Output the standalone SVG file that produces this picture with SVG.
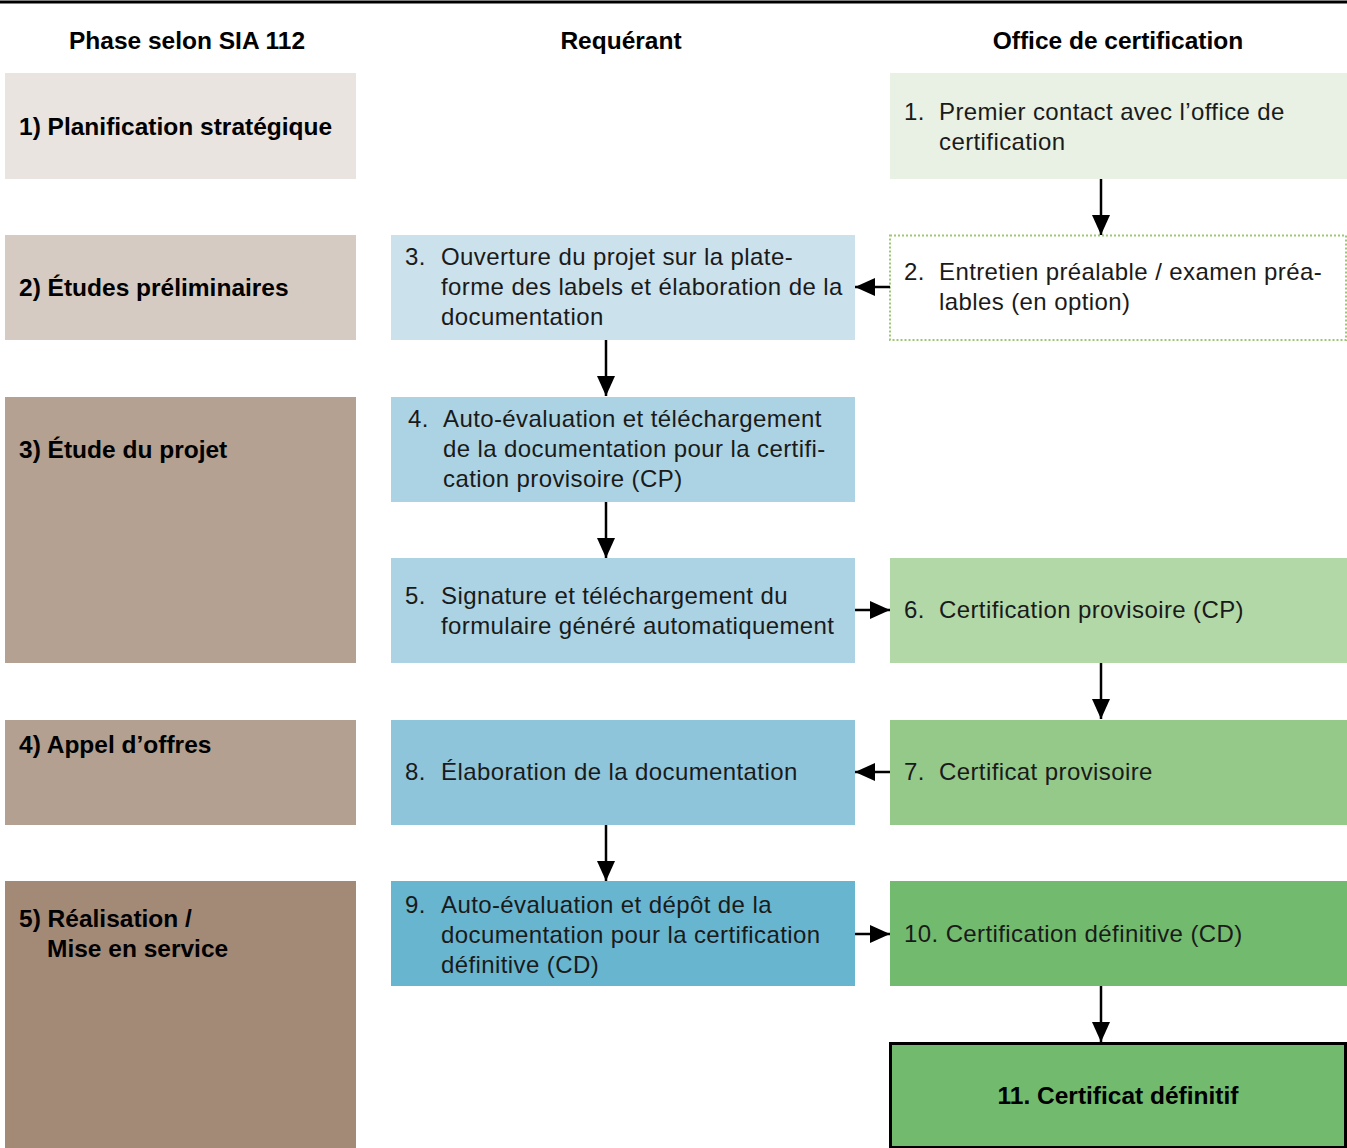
<svg xmlns="http://www.w3.org/2000/svg" width="1347" height="1148" viewBox="0 0 1347 1148">
<defs>
<marker id="ah" viewBox="0 0 20 18" refX="20" refY="9" markerWidth="20" markerHeight="18" markerUnits="userSpaceOnUse" orient="auto">
<path d="M0,0 L20,9 L0,18 Z" fill="#000"/>
</marker>
<style>
.t{font-family:"Liberation Sans",Arial,sans-serif;font-size:24px;letter-spacing:0.4px;fill:#1a1a1a}
.b{font-family:"Liberation Sans",Arial,sans-serif;font-size:24.5px;font-weight:bold;fill:#000}
.h{font-family:"Liberation Sans",Arial,sans-serif;font-size:24.5px;font-weight:bold;fill:#000;text-anchor:middle}
.c{stroke:#000;stroke-width:2.5;fill:none;marker-end:url(#ah)}
</style>
</defs>
<rect width="1347" height="1148" fill="#fff"/>
<line x1="0" y1="2" x2="1347" y2="2" stroke="#000" stroke-width="3"/>
<g id="headers">
<text class="h" x="187" y="49">Phase selon SIA 112</text>
<text class="h" x="621" y="49">Requérant</text>
<text class="h" x="1118" y="49">Office de certification</text>
</g>
<g id="phase1"><rect x="5" y="73" width="351" height="106" fill="#e9e4e0"/><text class="b" x="19" y="135">1) Planification stratégique</text></g>
<g id="phase2"><rect x="5" y="235" width="351" height="105" fill="#d6cbc2"/><text class="b" x="19" y="296">2) Études préliminaires</text></g>
<g id="phase3"><rect x="5" y="397" width="351" height="266" fill="#b4a192"/><text class="b" x="19" y="458">3) Étude du projet</text></g>
<g id="phase4"><rect x="5" y="720" width="351" height="105" fill="#b3a091"/><text class="b" x="19" y="753">4) Appel d’offres</text></g>
<g id="phase5"><rect x="5" y="881" width="351" height="267" fill="#a38a77"/><text class="b" x="19" y="927">5) Réalisation /</text><text class="b" x="47" y="957">Mise en service</text></g>

<g id="n1"><rect x="890" y="73" width="457" height="106" fill="#e8f1e4"/><text class="t" x="904" y="120">1.</text><text class="t" x="939" y="120">Premier contact avec l’office de</text><text class="t" x="939" y="150">certification</text></g>
<g id="n2"><rect x="890" y="235.5" width="456" height="104.5" fill="#fff" stroke="#9dc870" stroke-width="2" stroke-dasharray="2,2"/><text class="t" x="904" y="280">2.</text><text class="t" x="939" y="280">Entretien préalable / examen préa-</text><text class="t" x="939" y="310">lables (en option)</text></g>
<g id="n3"><rect x="391" y="235" width="464" height="105" fill="#cbe1ec"/><text class="t" x="405" y="265">3.</text><text class="t" x="441" y="265">Ouverture du projet sur la plate-</text><text class="t" x="441" y="295">forme des labels et élaboration de la</text><text class="t" x="441" y="325">documentation</text></g>
<g id="n4"><rect x="391" y="397" width="464" height="105" fill="#acd3e3"/><text class="t" x="408" y="427">4.</text><text class="t" x="443" y="427">Auto-évaluation et téléchargement</text><text class="t" x="443" y="457">de la documentation pour la certifi-</text><text class="t" x="443" y="487">cation provisoire (CP)</text></g>
<g id="n5"><rect x="391" y="558" width="464" height="105" fill="#acd3e3"/><text class="t" x="405" y="604">5.</text><text class="t" x="441" y="604">Signature et téléchargement du</text><text class="t" x="441" y="634">formulaire généré automatiquement</text></g>
<g id="n6"><rect x="890" y="558" width="457" height="105" fill="#b3d8a8"/><text class="t" x="904" y="618">6.</text><text class="t" x="939" y="618">Certification provisoire (CP)</text></g>
<g id="n7"><rect x="890" y="720" width="457" height="105" fill="#95c98a"/><text class="t" x="904" y="780">7.</text><text class="t" x="939" y="780">Certificat provisoire</text></g>
<g id="n8"><rect x="391" y="720" width="464" height="105" fill="#8ec5da"/><text class="t" x="405" y="780">8.</text><text class="t" x="441" y="780">Élaboration de la documentation</text></g>
<g id="n9"><rect x="391" y="881" width="464" height="105" fill="#67b5cf"/><text class="t" x="405" y="913">9.</text><text class="t" x="441" y="913">Auto-évaluation et dépôt de la</text><text class="t" x="441" y="943">documentation pour la certification</text><text class="t" x="441" y="973">définitive (CD)</text></g>
<g id="n10"><rect x="890" y="881" width="457" height="105" fill="#72bb6e"/><text class="t" x="904" y="942">10. Certification définitive (CD)</text></g>
<g id="n11"><rect x="890.5" y="1043.5" width="455" height="104" fill="#72bb6e" stroke="#000" stroke-width="3"/><text class="h" x="1118" y="1104">11. Certificat définitif</text></g>

<g id="connectors">
<line class="c" x1="1101" y1="179" x2="1101" y2="235"/>
<line class="c" x1="890" y1="287" x2="855" y2="287"/>
<line class="c" x1="606" y1="340" x2="606" y2="396"/>
<line class="c" x1="606" y1="502" x2="606" y2="558"/>
<line class="c" x1="855" y1="610" x2="890" y2="610"/>
<line class="c" x1="1101" y1="663" x2="1101" y2="719"/>
<line class="c" x1="890" y1="772" x2="855" y2="772"/>
<line class="c" x1="606" y1="825" x2="606" y2="881"/>
<line class="c" x1="855" y1="934" x2="890" y2="934"/>
<line class="c" x1="1101" y1="986" x2="1101" y2="1042"/>
</g>
</svg>
